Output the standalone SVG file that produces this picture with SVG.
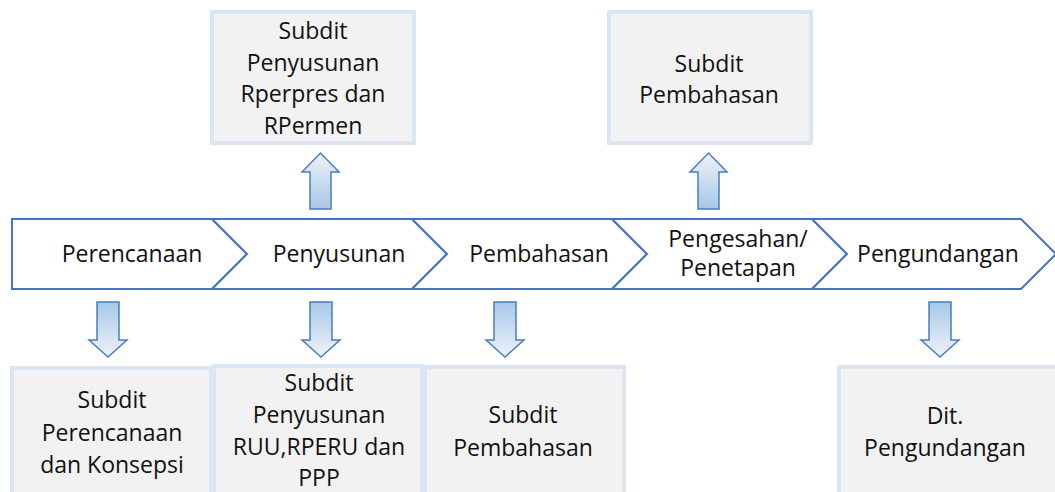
<svg xmlns="http://www.w3.org/2000/svg" width="1055" height="492" viewBox="0 0 1055 492">
<style>
.t{font-family:"Open Sans","Noto Sans","Liberation Sans",sans-serif;font-size:23px;fill:#111;text-anchor:middle}
.chev{fill:#fff;stroke:#4472c4;stroke-width:2;stroke-linejoin:miter}
.box{fill:#f2f2f2;stroke:#dce6f2;stroke-width:4}
.dn{fill:url(#gd);stroke:#4a7ebb;stroke-width:1.5;stroke-linejoin:miter}
.up{fill:url(#gu);stroke:#4a7ebb;stroke-width:1.5;stroke-linejoin:miter}
</style>
<defs>
<linearGradient id="gd" x1="0" y1="0" x2="0" y2="1">
<stop offset="0" stop-color="#a7c7e7"/>
<stop offset="1" stop-color="#eef3fa"/>
</linearGradient>
<linearGradient id="gu" x1="0" y1="1" x2="0" y2="0">
<stop offset="0" stop-color="#a7c7e7"/>
<stop offset="1" stop-color="#eef3fa"/>
</linearGradient>
</defs>
<rect width="1055" height="492" fill="#fff"/>

<g id="step-perencanaan">
<polygon class="chev" points="12,219 212,219 247,254 212,289 12,289"/>
<text class="t" x="132" y="262">Perencanaan</text>
</g>
<g id="step-penyusunan">
<polygon class="chev" points="212,219 412,219 447,254 412,289 212,289 247,254"/>
<text class="t" x="339" y="262">Penyusunan</text>
</g>
<g id="step-pembahasan">
<polygon class="chev" points="412,219 612,219 647,254 612,289 412,289 447,254"/>
<text class="t" x="539" y="262">Pembahasan</text>
</g>
<g id="step-pengesahan">
<polygon class="chev" points="612,219 812,219 847,254 812,289 612,289 647,254"/>
<text class="t" x="738" y="247">Pengesahan/</text>
<text class="t" x="738" y="276">Penetapan</text>
</g>
<g id="step-pengundangan">
<polygon class="chev" points="812,219 1021,219 1056,254 1021,289 812,289 847,254"/>
<text class="t" x="938" y="262">Pengundangan</text>
</g>

<g id="box-rperpres">
<rect class="box" x="212" y="12" width="202" height="131"/>
<text class="t" x="313" y="39">Subdit</text>
<text class="t" x="313" y="71">Penyusunan</text>
<text class="t" x="313" y="102">Rperpres dan</text>
<text class="t" x="313" y="134">RPermen</text>
</g>
<g id="box-pembahasan-top">
<rect class="box" x="609" y="12" width="202" height="131"/>
<text class="t" x="709" y="72">Subdit</text>
<text class="t" x="709" y="103">Pembahasan</text>
</g>
<g id="box-perencanaan">
<rect class="box" x="12" y="368" width="199" height="140"/>
<text class="t" x="112" y="408">Subdit</text>
<text class="t" x="112" y="441">Perencanaan</text>
<text class="t" x="112" y="473">dan Konsepsi</text>
</g>
<g id="box-ruu">
<rect class="box" x="214" y="366" width="208" height="140"/>
<text class="t" x="319" y="391">Subdit</text>
<text class="t" x="319" y="423">Penyusunan</text>
<text class="t" x="319" y="455">RUU,RPERU dan</text>
<text class="t" x="319" y="486">PPP</text>
</g>
<g id="box-pembahasan-bottom">
<rect class="box" x="425" y="367" width="199" height="140"/>
<text class="t" x="523" y="423">Subdit</text>
<text class="t" x="523" y="456">Pembahasan</text>
</g>
<g id="box-pengundangan">
<rect class="box" x="839" y="367" width="222" height="140"/>
<text class="t" x="945" y="424">Dit.</text>
<text class="t" x="945" y="456">Pengundangan</text>
</g>

<g id="connectors">
<polygon class="up" points="310,209 310,172 302,172 320.5,153 339,172 331,172 331,209"/>
<polygon class="up" points="698,209 698,172 690,172 708.5,153 727,172 719,172 719,209"/>
<polygon class="dn" points="97,302 119,302 119,340 127,340 108,357 89,340 97,340"/>
<polygon class="dn" points="310,302 332,302 332,340 340,340 321,357 302,340 310,340"/>
<polygon class="dn" points="494,302 516,302 516,340 524,340 505,357 486,340 494,340"/>
<polygon class="dn" points="929,302 951,302 951,340 959,340 940,357 921,340 929,340"/>
</g>
</svg>
